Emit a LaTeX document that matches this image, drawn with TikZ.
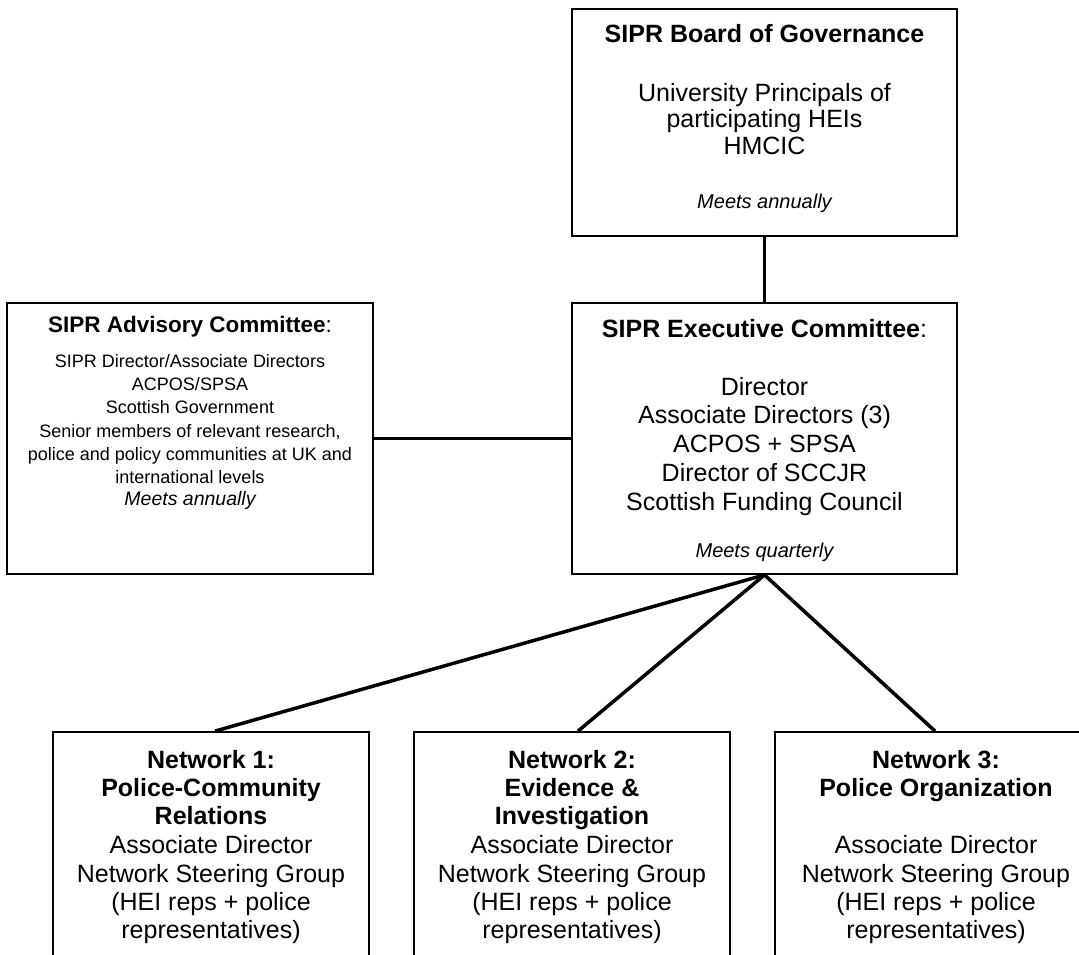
\documentclass[tikz,border=0pt]{standalone}
\usepackage{fontspec}
\setmainfont{Liberation Sans}
\begin{document}
\begin{tikzpicture}[x=1pt,y=-1pt,
  box/.style={draw, line width=1.8pt, rectangle, inner sep=0pt},
  conn/.style={line width=3.5pt},
  tb/.style={anchor=base, inner sep=0pt, font=\fontsize{25}{27}\selectfont\bfseries},
  tbs/.style={anchor=base, inner sep=0pt, font=\fontsize{22.5}{25}\selectfont\bfseries},
  tn/.style={anchor=base, inner sep=0pt, font=\fontsize{25}{27}\selectfont},
  ts/.style={anchor=base, inner sep=0pt, font=\fontsize{18}{20}\selectfont},
  ti/.style={anchor=base, inner sep=0pt, font=\fontsize{20}{22}\selectfont\itshape},
  tsi/.style={anchor=base, inner sep=0pt, font=\fontsize{19.5}{22}\selectfont\itshape}]
\useasboundingbox (0,0) rectangle (1079,955);

% boxes
\node[box, minimum width=385pt, minimum height=227pt] (gov) at (764.5,122.5) {};
\node[box, minimum width=366pt, minimum height=271pt] (adv) at (190,438.5) {};
\node[box, minimum width=385pt, minimum height=271pt] (exe) at (764.5,438.5) {};
\node[box, minimum width=316pt, minimum height=248pt] (n1) at (211,856) {};
\node[box, minimum width=316pt, minimum height=248pt] (n2) at (572,856) {};
\node[box, minimum width=316pt, minimum height=248pt] (n3) at (933,856) {};

% Board of Governance
\node[tb] (g1) at (764.5,43) {SIPR Board of Governance};
\node[tn] (g2) at (764.5,102) {University Principals of};
\node[tn] (g3) at (764.5,128) {participating HEIs};
\node[tn] (g4) at (764.5,155) {HMCIC};
\node[ti] (g5) at (764.5,208) {Meets annually};

% Advisory Committee
\node[tbs] (a1) at (190,332) {SIPR Advisory Committee{\mdseries:}};
\node[ts] (a2) at (190,367) {SIPR Director/Associate Directors};
\node[ts] (a3) at (190,390) {ACPOS/SPSA};
\node[ts] (a4) at (190,413) {Scottish Government};
\node[ts] (a5) at (190,437) {Senior members of relevant research,};
\node[ts] (a6) at (190,460) {police and policy communities at UK and};
\node[ts] (a7) at (190,483) {international levels};
\node[tsi] (a8) at (190,505) {Meets annually};

% Executive Committee
\node[tb] (e1) at (764.5,337) {SIPR Executive Committee{\mdseries:}};
\node[tn] (e2) at (764.5,395) {Director};
\node[tn] (e3) at (764.5,423) {Associate Directors (3)};
\node[tn] (e4) at (764.5,452) {ACPOS + SPSA};
\node[tn] (e5) at (764.5,481) {Director of SCCJR};
\node[tn] (e6) at (764.5,510) {Scottish Funding Council};
\node[ti] (e7) at (764.5,557) {Meets quarterly};

% Network 1
\node[tb] (p1) at (211,768) {Network 1:};
\node[tb] (p2) at (211,796) {Police-Community};
\node[tb] (p3) at (211,824) {Relations};
\node[tn] (p4) at (211,853) {Associate Director};
\node[tn] (p5) at (211,882) {Network Steering Group};
\node[tn] (p6) at (211,910) {(HEI reps + police};
\node[tn] (p7) at (211,938) {representatives)};

% Network 2
\node[tb] (q1) at (572,768) {Network 2:};
\node[tb] (q2) at (572,796) {Evidence \&};
\node[tb] (q3) at (572,824) {Investigation};
\node[tn] (q4) at (572,853) {Associate Director};
\node[tn] (q5) at (572,882) {Network Steering Group};
\node[tn] (q6) at (572,910) {(HEI reps + police};
\node[tn] (q7) at (572,938) {representatives)};

% Network 3
\node[tb] (r1) at (936,768) {Network 3:};
\node[tb] (r2) at (936,796) {Police Organization};
\node[tn] (r4) at (936,853) {Associate Director};
\node[tn] (r5) at (936,882) {Network Steering Group};
\node[tn] (r6) at (936,910) {(HEI reps + police};
\node[tn] (r7) at (936,938) {representatives)};

% connectors
\draw[conn] (gov.south) -- (exe.north);
\draw[conn] (adv.east) -- (exe.west);
\draw[conn] (exe.south) -- ([xshift=4pt]n1.north);
\draw[conn] (exe.south) -- ([xshift=6pt]n2.north);
\draw[conn] (exe.south) -- ([xshift=2pt]n3.north);
\end{tikzpicture}
\end{document}
